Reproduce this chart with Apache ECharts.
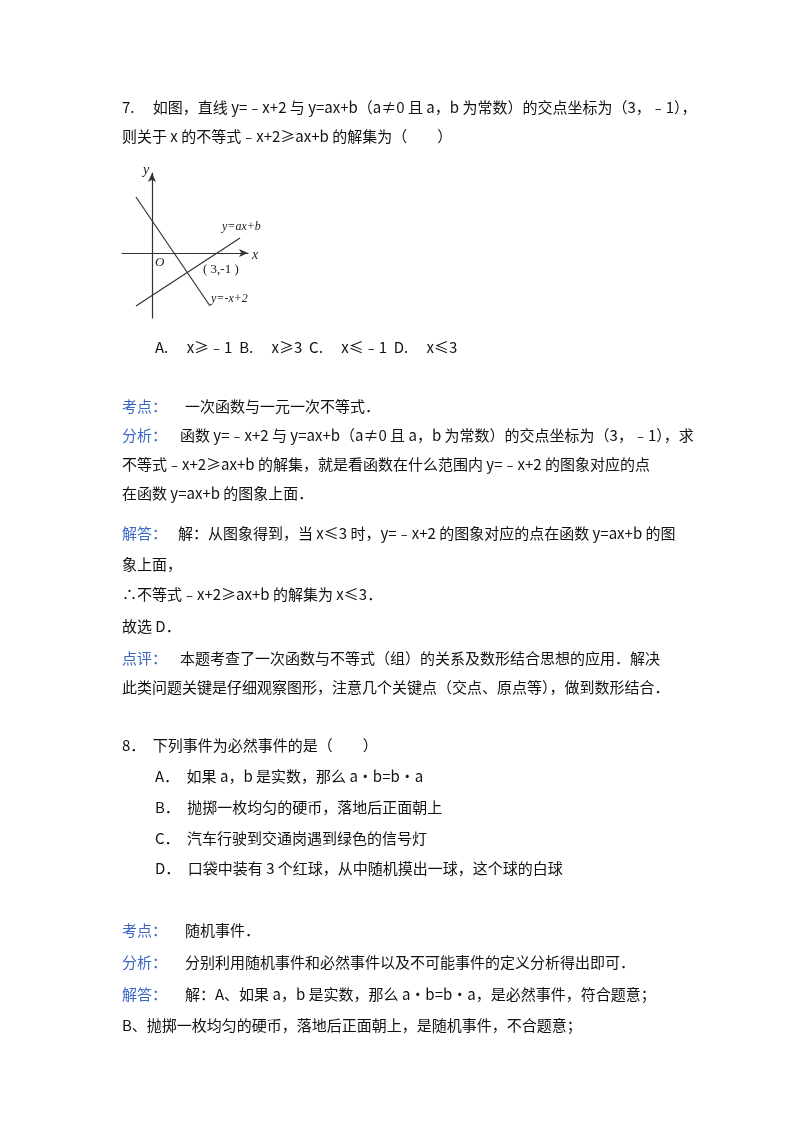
<!DOCTYPE html>
<html><head><meta charset="utf-8">
<script src="https://cdn.jsdelivr.net/npm/echarts@6/dist/echarts.min.js"></script>
<style>html,body{margin:0;padding:0;background:#fff}#c{width:800px;height:1132px}</style>
</head><body><div id="c"></div>
<script>
// line endpoints (x,y in data units)
const lineNeg = [[-1.07, 2.8], [3.87, -2.65]];   // y = -x + 2
const lineAx = [[-1.07, -2.65], [5.87, 0.75]];   // y = ax + b
const xRange = [-2, 6.4], yRange = [-3.25, 4];

const F = '"Noto Sans CJK SC", "Liberation Serif", serif';
const blue = '#3a66c4';
const lines = [
  [122,109,'7.　 如图，直线 y=﹣x+2 与 y=ax+b（a≠0 且 a，b 为常数）的交点坐标为（3，﹣1），'],
  [122,138,'则关于 x 的不等式﹣x+2≥ax+b 的解集为（　　）'],
  [155,349,'A.　 x≥﹣1  B.　 x≥3  C.　 x≤﹣1  D.　 x≤3'],
  [122,408,'考点：',blue],[185,408,'一次函数与一元一次不等式．'],
  [122,437,'分析：',blue],[180,437,'函数 y=﹣x+2 与 y=ax+b（a≠0 且 a，b 为常数）的交点坐标为（3，﹣1），求'],
  [122,466,'不等式﹣x+2≥ax+b 的解集，就是看函数在什么范围内 y=﹣x+2 的图象对应的点'],
  [122,495,'在函数 y=ax+b 的图象上面．'],
  [122,535,'解答：',blue],[178,535,'解：从图象得到，当 x≤3 时，y=﹣x+2 的图象对应的点在函数 y=ax+b 的图'],
  [122,566,'象上面，'],
  [122,596,'∴不等式﹣x+2≥ax+b 的解集为 x≤3．'],
  [122,628,'故选 D．'],
  [122,660,'点评：',blue],[180,660,'本题考查了一次函数与不等式（组）的关系及数形结合思想的应用．解决'],
  [122,689,'此类问题关键是仔细观察图形，注意几个关键点（交点、原点等），做到数形结合．'],
  [122,747,'8．　下列事件为必然事件的是（　　）'],
  [155,778,'A．　如果 a，b 是实数，那么 a•b=b•a'],
  [155,809,'B．　抛掷一枚均匀的硬币，落地后正面朝上'],
  [155,840,'C．　汽车行驶到交通岗遇到绿色的信号灯'],
  [155,870,'D．　口袋中装有 3 个红球，从中随机摸出一球，这个球的白球'],
  [122,932,'考点：',blue],[185,932,'随机事件．'],
  [122,964,'分析：',blue],[185,964,'分别利用随机事件和必然事件以及不可能事件的定义分析得出即可．'],
  [122,996,'解答：',blue],[185,996,'解：A、如果 a，b 是实数，那么 a•b=b•a，是必然事件，符合题意；'],
  [122,1027,'B、抛掷一枚均匀的硬币，落地后正面朝上，是随机事件，不合题意；']
];
const graphic = lines.map(l => ({type:'text', left:l[0], top:l[1]-9,
  style:{text:l[2], fill:l[3]||'#111', font:'15px '+F}}));
const small = [[143,163,'y','italic 14px'],[252,248,'x','italic 14px'],[155,256,'O','italic 13px'],
  [222,221,'y=ax+b','italic 12px'],[203,263,'( 3,-1 )','13px'],[211,293,'y=-x+2','italic 12px']];
small.forEach(s => graphic.push({type:'text', left:s[0], top:s[1], style:{text:s[2], fill:'#222', font:s[3]+' "Liberation Serif", serif'}}));

const chart = echarts.init(document.getElementById('c'));
const axisCommon = {axisLine:{onZero:true, symbol:['none','arrow'], symbolSize:[6,9], lineStyle:{color:'#333',width:1.2}},
  axisTick:{show:false}, axisLabel:{show:false}, splitLine:{show:false}};
chart.setOption({
  animation:false,
  grid:{left:122, top:173, width:126, height:145},
  xAxis:Object.assign({type:'value', min:xRange[0], max:xRange[1]}, axisCommon),
  yAxis:Object.assign({type:'value', min:yRange[0], max:yRange[1]}, axisCommon),
  series:[
    {type:'line', data:lineNeg, symbol:'none', lineStyle:{color:'#333',width:1.2}},
    {type:'line', data:lineAx, symbol:'none', lineStyle:{color:'#333',width:1.2}}
  ],
  graphic:graphic
});
</script></body></html>
